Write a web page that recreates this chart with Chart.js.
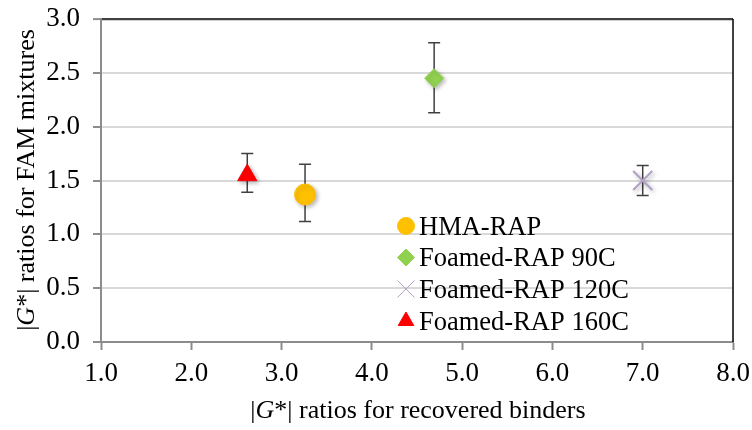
<!DOCTYPE html>
<html><head><meta charset="utf-8">
<script src="https://cdn.jsdelivr.net/npm/chart.js@4.4.0/dist/chart.umd.min.js"></script>
<style>html,body{margin:0;padding:0;background:#fff}#wrap{width:752px;height:430px}</style>
</head><body><div id="wrap"><canvas id="c" width="752" height="430"></canvas></div>
<script>
const seriesNames = ['HMA-RAP', 'Foamed-RAP 90C', 'Foamed-RAP 120C', 'Foamed-RAP 160C'];
const binderRatios = [3.26, 4.69, 7.00, 2.62];
const famRatios = [1.37, 2.45, 1.50, 1.55];
const famUpper = [1.65, 2.78, 1.64, 1.75];
const famLower = [1.12, 2.13, 1.36, 1.39];
const xTickValues = [1, 2, 3, 4, 5, 6, 7, 8];
const yTickValues = [0, 0.5, 1, 1.5, 2, 2.5, 3];
const colors = ['#FFC000', '#92D050', '#B3A2C7', '#FF0000'];
const styles = ['circle', 'rectRot', 'crossRot', 'triangle'];
const radii = [10.5, 9.5, 13.5, 11];
const legendRadii = [8.5, 8.5, 12, 9];

const FONT = "'Liberation Serif', 'Times New Roman', serif";

const datasets = seriesNames.map((n, i) => ({
  label: n,
  data: [{x: binderRatios[i], y: famRatios[i]}],
  pointStyle: styles[i],
  pointRadius: radii[i],
  pointHoverRadius: radii[i],
  backgroundColor: colors[i],
  borderColor: colors[i],
  borderWidth: styles[i] === 'crossRot' ? 2.2 : 1,
  errUp: famUpper[i],
  errLo: famLower[i]
}));

const errorBars = {
  id: 'errorBars',
  beforeDatasetsDraw(chart) {
    const {ctx, scales: {x, y}} = chart;
    ctx.save();
    ctx.strokeStyle = '#404040';
    ctx.lineWidth = 1.5;
    chart.data.datasets.forEach(ds => {
      const px = x.getPixelForValue(ds.data[0].x);
      const pt = y.getPixelForValue(ds.errUp);
      const pb = y.getPixelForValue(ds.errLo);
      ctx.beginPath();
      ctx.moveTo(px, pt); ctx.lineTo(px, pb);
      ctx.moveTo(px - 6, pt); ctx.lineTo(px + 6, pt);
      ctx.moveTo(px - 6, pb); ctx.lineTo(px + 6, pb);
      ctx.stroke();
    });
    ctx.restore();
  },
  beforeDatasetDraw(chart) {
    const ctx = chart.ctx;
    ctx.save();
    ctx.shadowColor = 'rgba(0,0,0,0.28)';
    ctx.shadowBlur = 4;
    ctx.shadowOffsetX = 2;
    ctx.shadowOffsetY = 2;
  },
  afterDatasetDraw(chart) {
    chart.ctx.restore();
  }
};

const frame = {
  id: 'frame',
  afterDraw(chart) {
    const {ctx, chartArea: a} = chart;
    ctx.save();
    ctx.strokeStyle = '#000';
    ctx.lineWidth = 1.5;
    ctx.beginPath();
    ctx.moveTo(a.right, a.top); ctx.lineTo(a.right, a.bottom);
    ctx.stroke();
    ctx.restore();
  }
};

function drawMixed(ctx, parts, cx, cy) {
  let total = 0;
  parts.forEach(p => { ctx.font = (p[1] ? 'italic ' : '') + '26px ' + FONT; p.w = ctx.measureText(p[0]).width; total += p.w; });
  let x = cx - total / 2;
  parts.forEach(p => { ctx.font = (p[1] ? 'italic ' : '') + '26px ' + FONT; ctx.fillText(p[0], x, cy); x += p.w; });
}

const titles = {
  id: 'titles',
  afterDraw(chart) {
    const ctx = chart.ctx;
    ctx.save();
    ctx.fillStyle = '#000';
    ctx.textBaseline = 'alphabetic';
    ctx.textAlign = 'left';
    drawMixed(ctx, [['|', false], ['G', true], ['*| ratios for recovered binders', false]], 418, 418);
    ctx.translate(34, 180);
    ctx.rotate(-Math.PI / 2);
    drawMixed(ctx, [['|', false], ['G', true], ['*| ratios for FAM mixtures', false]], 0, 0);
    ctx.restore();
  }
};

const legendBox = {
  id: 'legendBox',
  afterDraw(chart) {
    const ctx = chart.ctx;
    const mx = 406, tx = 419;
    const rows = [226, 257.5, 289, 321];
    ctx.save();
    seriesNames.forEach((n, i) => {
      ctx.fillStyle = colors[i];
      ctx.strokeStyle = colors[i];
      Chart.helpers.drawPoint(ctx, {pointStyle: styles[i], radius: legendRadii[i], rotation: 0,
        borderWidth: styles[i] === 'crossRot' ? 2 : 1}, mx, rows[i]);
      ctx.fillStyle = '#000';
      ctx.font = '26.5px ' + FONT;
      ctx.textBaseline = 'alphabetic';
      ctx.textAlign = 'left';
      ctx.fillText(n, tx, rows[i] + 8.5);
    });
    ctx.restore();
  }
};

new Chart(document.getElementById('c'), {
  type: 'scatter',
  data: {datasets},
  options: {
    responsive: false,
    animation: false,
    events: [],
    layout: {padding: {top: 19, right: 19, left: 0, bottom: 0}},
    plugins: {legend: {display: false}, tooltip: {enabled: false}},
    scales: {
      x: {
        type: 'linear', min: 1, max: 8,
        afterBuildTicks: s => { s.ticks = xTickValues.map(v => ({value: v})); },
        afterFit: s => { s.height = 88; s.paddingLeft = 0; s.paddingRight = 0; },
        ticks: {callback: v => Number(v).toFixed(1), font: {family: FONT, size: 27}, color: '#000', padding: 8, maxRotation: 0},
        grid: {drawOnChartArea: false, drawTicks: true, tickLength: 8, tickColor: '#8c8c8c', tickWidth: 2},
        border: {color: '#8c8c8c', width: 2}
      },
      y: {
        type: 'linear', min: 0, max: 3,
        afterBuildTicks: s => { s.ticks = yTickValues.map(v => ({value: v})); },
        afterFit: s => { s.width = 101; s.paddingTop = 0; s.paddingBottom = 0; },
        ticks: {callback: v => Number(v).toFixed(1), font: {family: FONT, size: 27}, color: '#000', padding: 13},
        grid: {
          color: c => (c.tick && c.tick.value === 3) ? '#404040' : '#d9d9d9',
          lineWidth: c => (c.tick && c.tick.value === 3) ? 2.2 : 2,
          drawTicks: true, tickLength: 8, tickColor: '#8c8c8c', tickWidth: 2
        },
        border: {color: '#8c8c8c', width: 2}
      }
    }
  },
  plugins: [errorBars, frame, titles, legendBox]
});
</script>
</body></html>
